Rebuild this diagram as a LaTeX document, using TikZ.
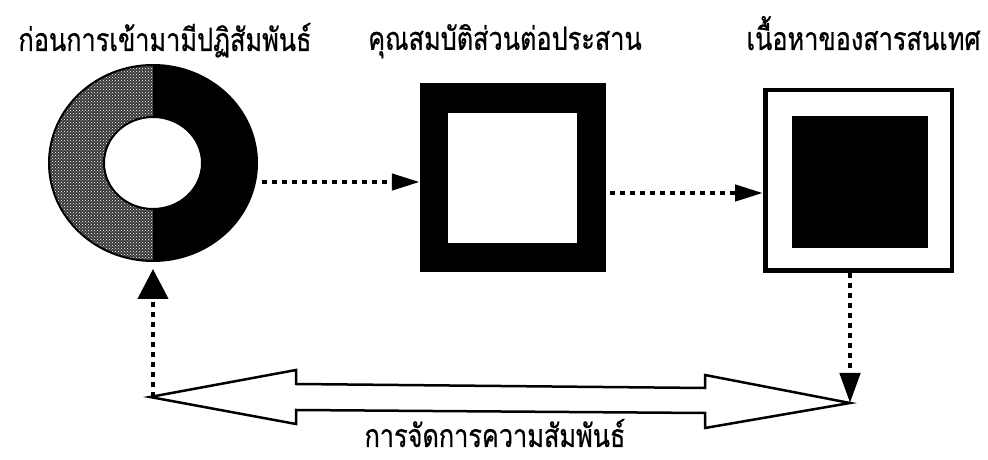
\documentclass[tikz,border=0pt]{standalone}
\usepackage{fontspec}
\newfontfamily\thaifont[Script=Thai, FakeBold=0.8]{Loma}
\usetikzlibrary{arrows.meta,positioning,shapes.geometric,patterns}
\newcommand{\thaitxt}[1]{\scalebox{0.79}[1]{#1}}

\begin{document}
\begin{tikzpicture}[
    x=1pt, y=1pt,
    lbl/.style={font=\thaifont\fontsize{32}{36}\selectfont, inner sep=0pt, anchor=base},
    block/.style={inner sep=0pt, minimum width=#1},
    dotlink/.style={line width=4.5pt, dash pattern=on 5pt off 5pt, -{Triangle[length=28pt, width=16pt]}},
    bigarrow/.style={draw, line width=2.5pt, fill=white, line join=miter}
]
\useasboundingbox (0,0) rectangle (988,460);

% ring, left half dotted, right half black
\node[ellipse, draw, line width=2pt, minimum width=208pt, minimum height=196pt,
  path picture={
    \fill[black!78] (path picture bounding box.south west) rectangle (path picture bounding box.north);
    \fill[pattern=crosshatch dots, pattern color=white] (path picture bounding box.south west) rectangle (path picture bounding box.north);
    \fill[black] (path picture bounding box.south) rectangle (path picture bounding box.north east);
  }] (ring) at (153,297) {};
\node[ellipse, draw, fill=white, line width=2pt, minimum width=98pt, minimum height=92pt] (hole) at (ring.center) {};

% interface square
\node[fill=black, block=186pt, minimum height=189pt] (iface) at (513,282.5) {};
\node[fill=white, block=129pt, minimum height=130pt] (ifacein) at (512.5,282) {};

% content box
\node[draw, line width=4.5pt, block=186.5pt, minimum height=180.5pt] (content) at (858.5,279.5) {};
\node[fill=black, block=136pt, minimum height=132pt] (contentin) at (860,278) {};

\node[lbl] (before) at ([xshift=12pt, yshift=13pt]ring.north) {\thaitxt{ก่อนการเข้ามามีปฏิสัมพันธ์}};
\node[lbl] (prop) at ([xshift=-8pt, yshift=33pt]iface.north) {\thaitxt{คุณสมบัติส่วนต่อประสาน}};
\node[lbl] (info) at ([xshift=5pt, yshift=38pt]content.north) {\thaitxt{เนื้อหาของสารสนเทศ}};

% relationship double arrow
\coordinate (relL) at (150,63);
\coordinate (relR) at (850,57);
\draw[bigarrow] (relL) -- (296,90) -- (296,76) -- (705,72) -- (705,85) -- (relR)
  -- (705,32) -- (705,47) -- (296,50) -- (296,36) -- cycle;
\node[lbl] (mgmt) at (495,13) {\thaitxt{การจัดการความสัมพันธ์}};

\coordinate (a1) at ([xshift=4pt, yshift=-19pt]ring.east);
\coordinate (a2) at ([xshift=4pt, yshift=-15.5pt]iface.east);
\draw[dotlink] (a1) -- (a1 -| iface.west);
\draw[dotlink] (a2) -- (a2 -| content.west);
\draw[dotlink, -{Triangle[length=30pt, width=20pt]}] (relR |- content.south) -- (relR);
\draw[dotlink, -{Triangle[length=30pt, width=30pt]}, shorten >=7pt] ([xshift=3pt]relL) -- ([xshift=3pt]relL |- ring.south);
\end{tikzpicture}
\end{document}
